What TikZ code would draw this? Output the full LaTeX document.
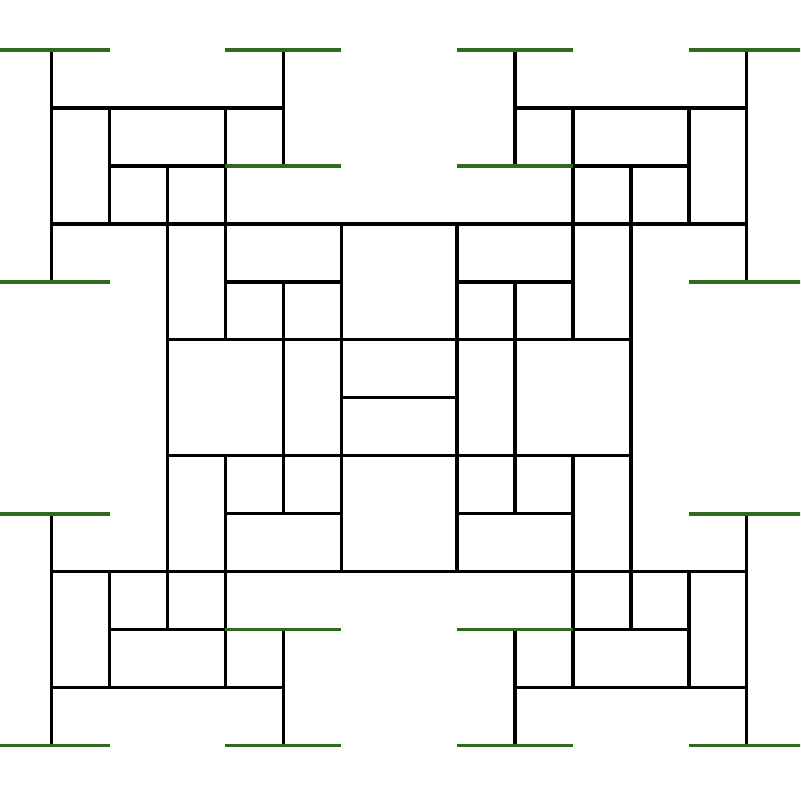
\documentclass[tikz,border=0pt]{standalone}
\definecolor{leafgreen}{HTML}{2E6B1F}
\tikzset{
  wire/.style={line width=3.4pt, black, line cap=rect},
  leaf/.style={line width=3.8pt, leafgreen, line cap=butt}
}
\begin{document}
\begin{tikzpicture}[x=57.92pt, y=-57.95pt]
\useasboundingbox (-0.8926,-0.8628) rectangle (12.9196,12.9594);
\clip (-0.8926,-0.8628) rectangle (12.9196,12.9594);
\fill[white] (-0.8926,-0.8628) rectangle (12.9196,12.9594);
% black horizontals
\foreach \j in {3,9} \draw[wire] (0,\j) -- (12,\j);
\foreach \j in {5,7} \draw[wire] (2,\j) -- (10,\j);
\draw[wire] (5,6) -- (7,6);
\foreach \j in {1,11} {\draw[wire] (0,\j) -- (4,\j); \draw[wire] (8,\j) -- (12,\j);}
\foreach \j in {2,10} {\draw[wire] (1,\j) -- (3,\j); \draw[wire] (9,\j) -- (11,\j);}
\foreach \j in {4,8} {\draw[wire] (3,\j) -- (5,\j); \draw[wire] (7,\j) -- (9,\j);}
% black verticals
\foreach \i in {0,12} {\draw[wire] (\i,0) -- (\i,4); \draw[wire] (\i,8) -- (\i,12);}
\foreach \i in {1,11} {\draw[wire] (\i,1) -- (\i,3); \draw[wire] (\i,9) -- (\i,11);}
\foreach \i in {2,10} \draw[wire] (\i,2) -- (\i,10);
\foreach \i in {3,9} {\draw[wire] (\i,1) -- (\i,5); \draw[wire] (\i,7) -- (\i,11);}
\foreach \i in {4,8} {\draw[wire] (\i,0) -- (\i,2); \draw[wire] (\i,4) -- (\i,8); \draw[wire] (\i,10) -- (\i,12);}
\foreach \i in {5,7} \draw[wire] (\i,3) -- (\i,9);
% green leaves
\foreach \j in {0,12} \foreach \c in {0,4,8,12} \draw[leaf] (\c-1,\j) -- (\c+1,\j);
\foreach \j in {2,10} \foreach \c in {4,8} \draw[leaf] (\c-1,\j) -- (\c+1,\j);
\foreach \j in {4,8} \foreach \c in {0,12} \draw[leaf] (\c-1,\j) -- (\c+1,\j);
\end{tikzpicture}
\end{document}
